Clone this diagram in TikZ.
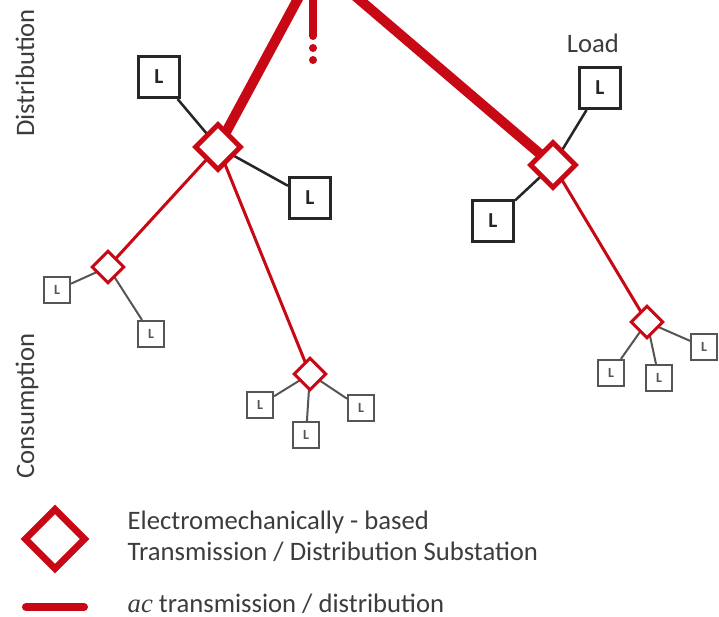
\documentclass[tikz,border=0pt]{standalone}
\usepackage{fontspec}
\setmainfont{Carlito}
\newfontfamily\acfont{Liberation Serif}
\usetikzlibrary{shapes.geometric}
\pgfdeclarelayer{bg}
\pgfsetlayers{bg,main}
\definecolor{pred}{RGB}{200,8,20}
\definecolor{txt}{RGB}{60,60,60}
\definecolor{lgray}{RGB}{85,85,85}
\begin{document}
\begin{tikzpicture}[x=0.75pt,y=-0.75pt,
 bigsub/.style={diamond, aspect=1, draw=pred, line width=3.75pt, fill=white, inner sep=0pt, minimum size=35pt},
 smallsub/.style={diamond, aspect=1, draw=pred, line width=2.25pt, fill=white, inner sep=0pt, minimum size=24.5pt},
 bigload/.style={draw=black!85, line width=2.6pt, fill=white, minimum size=30.5pt, inner sep=0pt, font=\fontsize{16}{16}\selectfont\bfseries, text=black!85},
 smallload/.style={draw=lgray, line width=1.5pt, fill=white, minimum size=19.5pt, inner sep=0pt, font=\fontsize{10.5}{10.5}\selectfont\bfseries, text=lgray},
 trunk/.style={draw=pred, line width=7.5pt},
 feeder/.style={draw=pred, line width=2.25pt},
 bigwire/.style={draw=black!85, line width=1.9pt},
 smallwire/.style={draw=lgray, line width=1.5pt},
 lbl/.style={text=txt, font=\fontsize{20}{23.3}\selectfont}
]
\useasboundingbox (0,0) rectangle (719,617);

% substations
\node[bigsub] (D1) at (218,147) {};
\node[bigsub] (D2) at (553,165) {};
\node[smallsub] (S1) at (108,267) {};
\node[smallsub] (S2) at (310,374) {};
\node[smallsub] (S3) at (647,322) {};

% big loads
\node[bigload] (L1) at (159,77) {L};
\node[bigload] (L2) at (310,198) {L};
\node[bigload] (L3) at (600,88) {L};
\node[bigload] (L4) at (493,221) {L};

% small loads
\node[smallload] (a1) at (57,290) {L};
\node[smallload] (a2) at (151,334) {L};
\node[smallload] (b1) at (260,405) {L};
\node[smallload] (b2) at (306,435) {L};
\node[smallload] (b3) at (361,408) {L};
\node[smallload] (c1) at (611,373) {L};
\node[smallload] (c2) at (659,378) {L};
\node[smallload] (c3) at (704,347) {L};

% top ends
\coordinate (T1) at (300,-5);
\coordinate (T2) at (354,-5);
\coordinate (T3) at (313,-5);
\coordinate (T3e) at (313,36);
\coordinate (dotA) at (313,48);
\coordinate (dotB) at (313,60);

\begin{pgfonlayer}{bg}
\draw[trunk] (T1) -- (D1.center);
\draw[trunk] (T2) -- (D2.center);
\draw[pred, line width=6pt, line cap=round] (T3) -- (T3e);
\fill[pred] (dotA) circle (4);
\fill[pred] (dotB) circle (4);
\draw[feeder] (D1.center) -- (S1.center);
\draw[feeder] (D1.center) -- (S2.center);
\draw[feeder] (D2.center) -- (S3.center);
\draw[bigwire] (L1) -- (D1.center);
\draw[bigwire] (L2) -- (D1.center);
\draw[bigwire] (L3) -- (D2.center);
\draw[bigwire] (L4) -- (D2.center);
\draw[smallwire] (a1) -- (S1.center);
\draw[smallwire] (a2) -- (S1.center);
\draw[smallwire] (b1) -- (S2.center);
\draw[smallwire] (b2) -- (S2.center);
\draw[smallwire] (b3) -- (S2.center);
\draw[smallwire] (c1) -- (S3.center);
\draw[smallwire] (c2) -- (S3.center);
\draw[smallwire] (c3) -- (S3.center);
\end{pgfonlayer}

% labels
\node[lbl, rotate=90] (dist) at (25,73) {Distribution};
\node[lbl, rotate=90] (cons) at (27,406) {Consumption};
\node[lbl] (load) at (593,43) {Load};

% legend
\node[bigsub, minimum size=46.5pt, line width=5pt] (legD) at (55,539) {};
\coordinate (legA) at (26,607);
\coordinate (legB) at (84,607);
\draw[pred, line width=6pt, line cap=round] (legA) -- (legB);
\node[lbl, anchor=west, align=left] (legT1) at (123,536) {Electromechanically - based\\Transmission / Distribution Substation};
\node[lbl, anchor=base west, inner ysep=1pt] (legT2) at (123,612) {{\acfont\itshape ac} transmission / distribution};
\end{tikzpicture}
\end{document}
